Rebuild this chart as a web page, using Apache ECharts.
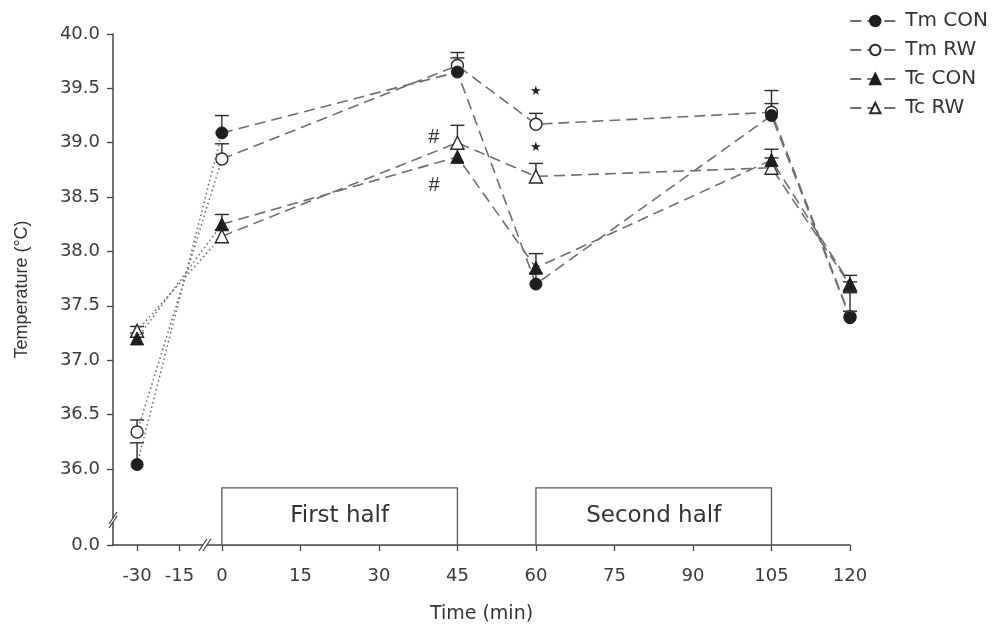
<!DOCTYPE html>
<html>
<head>
<meta charset="utf-8">
<script src="https://cdn.jsdelivr.net/npm/echarts@6/dist/echarts.min.js"></script>
<style>
  html, body { margin: 0; padding: 0; background: #fff; }
  #chart { width: 999px; height: 629px; }
</style>
</head>
<body>
<div id="chart"></div>
<script>
// Sampling times (min) and tick labels
const times = [-30, 0, 45, 60, 105, 120];
const xTicks = [-30, -15, 0, 15, 30, 45, 60, 75, 90, 105, 120];
const yTicks = [36.0, 36.5, 37.0, 37.5, 38.0, 38.5, 39.0, 39.5, 40.0];
const yFloorLabel = 0.0;

// Mean temperature (°C) and top of the SD bar for each group
const tmCon    = [36.04, 39.09, 39.65, 37.70, 39.25, 37.39];
const tmConTop = [36.24, 39.25, 39.78, 37.80, 39.36, 37.62];
const tmRw     = [36.34, 38.85, 39.71, 39.17, 39.28, 37.40];
const tmRwTop  = [36.45, 38.99, 39.83, 39.27, 39.48, 37.45];
const tcCon    = [37.20, 38.25, 38.87, 37.85, 38.84, 37.70];
const tcConTop = [37.25, 38.34, 38.95, 37.98, 38.94, 37.78];
const tcRw     = [37.27, 38.14, 39.00, 38.69, 38.77, 37.69];
const tcRwTop  = [37.31, 38.20, 39.16, 38.81, 38.86, 37.72];

// Match periods
const phases = [
  { name: 'First half', from: 0, to: 45 },
  { name: 'Second half', from: 60, to: 105 }
];

// Significance marks
const marks = [
  { series: 'Tc RW',  time: 45, text: '#' },
  { series: 'Tc CON', time: 45, text: '#' },
  { series: 'Tm RW',  time: 60, text: '★' },
  { series: 'Tc RW',  time: 60, text: '★' }
];

// Broken axes: pre-match minutes are compressed, the y scale jumps to 0
const PRE_SCALE = 0.54;
const toAxis = t => (t < 0 ? t * PRE_SCALE : t);
const X_MIN = -20.8, X_MAX = 120;
const Y_FLOOR = 35.3, Y_MAX = 40.0;

// Drawing order: open markers first, filled markers on top
const groups = [
  { name: 'Tm CON', values: tmCon, tops: tmConTop, symbol: 'circle',   filled: true,  z: 6 },
  { name: 'Tm RW',  values: tmRw,  tops: tmRwTop,  symbol: 'circle',   filled: false, z: 5 },
  { name: 'Tc CON', values: tcCon, tops: tcConTop, symbol: 'triangle', filled: true,  z: 6 },
  { name: 'Tc RW',  values: tcRw,  tops: tcRwTop,  symbol: 'triangle', filled: false, z: 5 }
];

const LINE_COLOR = '#6e6e6e';
const INK = '#1e1e1e';
const FONT = 'DejaVu Sans';

function markerStyle(g) {
  return g.filled
    ? { color: INK, borderColor: INK, borderWidth: 1 }
    : { color: '#fff', borderColor: '#2a2a2a', borderWidth: 1.4 };
}
function symbolSize(g) { return g.symbol === 'circle' ? 12 : 13; }

function markLabel(g, t) {
  const m = marks.find(k => k.series === g.name && k.time === t);
  if (!m) return undefined;
  if (m.text === '#') {
    const below = g.name === 'Tc CON';
    return {
      show: true, formatter: m.text, position: 'left',
      offset: below ? [-6, 29] : [-6, -5],
      fontSize: 20, fontStyle: 'italic', color: '#333',
      fontFamily: 'Liberation Sans'
    };
  }
  return {
    show: true, formatter: m.text, position: 'top',
    offset: [0, g.name === 'Tm RW' ? -14 : -10],
    fontSize: 13, color: '#222', fontFamily: FONT
  };
}

const series = [];

// SD bars, drawn under the markers
groups.forEach(g => {
  series.push({
    type: 'custom',
    name: g.name + ' SD',
    z: 2,
    silent: true,
    data: times.map((t, i) => [toAxis(t), g.values[i], g.tops[i]]),
    renderItem: function (params, api) {
      const x = api.value(0);
      const p0 = api.coord([x, api.value(1)]);
      const p1 = api.coord([x, api.value(2)]);
      const half = 7;
      const st = { stroke: '#2a2a2a', lineWidth: 1.4 };
      return {
        type: 'group',
        children: [
          { type: 'line', shape: { x1: p0[0], y1: p0[1], x2: p1[0], y2: p1[1] }, style: st },
          { type: 'line', shape: { x1: p1[0] - half, y1: p1[1], x2: p1[0] + half, y2: p1[1] }, style: st }
        ]
      };
    }
  });
});

// Match period lines (dashed) with markers
groups.forEach(g => {
  const data = [];
  times.forEach((t, i) => {
    if (t < 0) return;
    const item = { value: [toAxis(t), g.values[i]] };
    const lbl = markLabel(g, t);
    if (lbl) item.label = lbl;
    data.push(item);
  });
  series.push({
    type: 'line',
    name: g.name,
    z: g.z,
    data: data,
    symbol: g.symbol,
    symbolSize: symbolSize(g),
    itemStyle: markerStyle(g),
    lineStyle: { color: LINE_COLOR, width: 1.6, type: [11, 6] },
    emphasis: { disabled: true },
    animation: false
  });
});

// Warm-up segment (dotted), -30 min to kick-off
groups.forEach(g => {
  const data = [];
  times.forEach((t, i) => {
    if (t > 0) return;
    const item = { value: [toAxis(t), g.values[i]] };
    if (t === 0) item.symbol = 'none';
    data.push(item);
  });
  series.push({
    type: 'line',
    name: g.name,
    z: g.z - 2,
    data: data,
    symbol: g.symbol,
    symbolSize: symbolSize(g),
    itemStyle: markerStyle(g),
    lineStyle: { color: LINE_COLOR, width: 1.6, type: [1.5, 3] },
    emphasis: { disabled: true },
    animation: false
  });
});

// Period boxes along the time axis
series.push({
  type: 'line',
  name: 'periods',
  data: [],
  markArea: {
    silent: true,
    itemStyle: { color: '#fff', borderColor: '#555', borderWidth: 1.3 },
    label: {
      show: true, position: 'inside', fontSize: 23, color: '#333',
      fontFamily: FONT
    },
    data: phases.map(p => [
      { name: p.name, xAxis: toAxis(p.from), yAxis: Y_FLOOR },
      { xAxis: toAxis(p.to), yAxis: 35.826 }
    ])
  }
});

const axisText = { color: '#3a3a3a', fontSize: 18, fontFamily: FONT };

const option = {
  animation: false,
  backgroundColor: '#fff',
  grid: { left: 113, right: 149, top: 34, bottom: 84 },
  legend: {
    data: groups.map(g => g.name),
    orient: 'vertical',
    right: 6,
    top: 6,
    itemWidth: 50,
    itemHeight: 13,
    itemGap: 9,
    selectedMode: false,
    textStyle: { color: '#333', fontSize: 20, fontFamily: FONT }
  },
  xAxis: {
    type: 'value',
    min: X_MIN,
    max: X_MAX,
    name: 'Time (min)',
    nameLocation: 'middle',
    nameGap: 60,
    nameTextStyle: { color: '#333', fontSize: 19, fontFamily: FONT },
    splitLine: { show: false },
    axisLine: { show: true, onZero: false, lineStyle: { color: '#444', width: 1.5 } },
    axisTick: {
      show: true, length: 6, customValues: xTicks.map(toAxis),
      lineStyle: { color: '#444', width: 1.3 }
    },
    axisLabel: Object.assign({
      margin: 22,
      customValues: xTicks.map(toAxis),
      formatter: v => {
        const t = xTicks.find(k => Math.abs(toAxis(k) - v) < 1e-6);
        return t === undefined ? '' : String(t);
      }
    }, axisText)
  },
  yAxis: {
    type: 'value',
    min: Y_FLOOR,
    max: Y_MAX,
    name: 'Temperature (°C)',
    nameLocation: 'middle',
    nameGap: 82,
    nameTextStyle: { color: '#333', fontSize: 18, fontFamily: 'Liberation Sans' },
    splitLine: { show: false },
    axisLine: { show: true, onZero: false, lineStyle: { color: '#444', width: 1.5 } },
    axisTick: {
      show: true, length: 6, customValues: [Y_FLOOR].concat(yTicks),
      lineStyle: { color: '#444', width: 1.3 }
    },
    axisLabel: Object.assign({
      margin: 13,
      customValues: [Y_FLOOR].concat(yTicks),
      formatter: v => (Math.abs(v - Y_FLOOR) < 1e-6 ? yFloorLabel.toFixed(1) : v.toFixed(1))
    }, axisText)
  },
  series: series
};

const chart = echarts.init(document.getElementById('chart'), null, { renderer: 'canvas' });
chart.setOption(option);

// Axis break marks ("//")
function breakMark(cx, cy, horizontalAxis) {
  const dx = 4, dy = 6, gap = 4;
  const offs = horizontalAxis ? [[-gap / 2, 0], [gap / 2, 0]] : [[0, -gap / 2], [0, gap / 2]];
  const cover = horizontalAxis
    ? { type: 'rect', shape: { x: cx - gap / 2, y: cy - 2, width: gap, height: 4 }, style: { fill: '#fff' } }
    : { type: 'rect', shape: { x: cx - 2, y: cy - gap / 2, width: 4, height: gap }, style: { fill: '#fff' } };
  return [cover].concat(offs.map(o => ({
    type: 'line',
    shape: { x1: cx + o[0] - dx, y1: cy + o[1] + dy, x2: cx + o[0] + dx, y2: cy + o[1] - dy },
    style: { stroke: '#444', lineWidth: 1.3 }
  })));
}
const yBreak = chart.convertToPixel({ gridIndex: 0 }, [X_MIN, 35.53]);
const xBreak = chart.convertToPixel({ gridIndex: 0 }, [-3.25, Y_FLOOR]);
chart.setOption({
  graphic: breakMark(yBreak[0], yBreak[1], false).concat(breakMark(xBreak[0], xBreak[1], true))
    .map(e => Object.assign(e, { z: 100 }))
});
</script>
</body>
</html>
